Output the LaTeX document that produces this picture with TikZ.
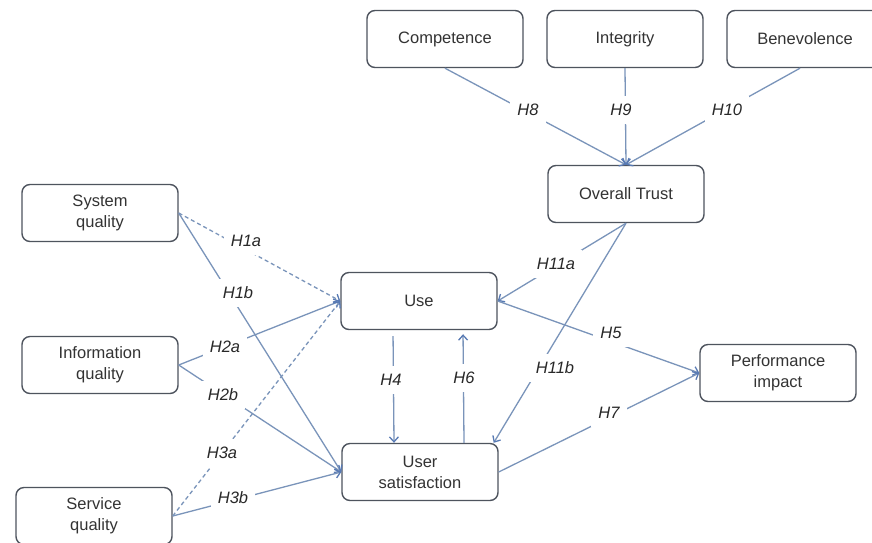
\documentclass[tikz,border=0pt]{standalone}
\usepackage{fontspec}
\setmainfont{Liberation Sans}
\usetikzlibrary{arrows.meta}
\definecolor{boxline}{RGB}{78,84,94}
\definecolor{linkline}{RGB}{122,148,186}
\definecolor{tipblue}{RGB}{88,122,180}
\definecolor{labtext}{RGB}{40,40,40}
\begin{document}
\begin{tikzpicture}[x=1pt,y=-1pt,
  construct/.style={draw=boxline, line width=1.4pt, rounded corners=8pt,
    minimum width=156pt, minimum height=57pt, align=center, fill=white,
    text=black!80, font=\fontsize{16.5}{21}\selectfont},
  link/.style={draw=linkline, line width=1.3pt,
    -{Straight Barb[length=5pt,width=9pt,line width=1.3pt,color=tipblue]}},
  dashedlink/.style={link, dash pattern=on 4pt off 3pt},
  hyp/.style={fill=white, inner xsep=7pt, inner ysep=8pt, text=labtext,
    font=\fontsize{16.5}{20}\selectfont\itshape}]
\useasboundingbox (0,0) rectangle (872,542);
\fill[white] (0,0) rectangle (872,542);
\clip (0,0) rectangle (872,542);

% constructs
\node[construct] (comp)  at (445,39)  {Competence};
\node[construct] (integ) at (625,39)  {Integrity};
\node[construct] (benev) at (805,39)  {Benevolence};
\node[construct] (trust) at (626,194) {Overall Trust};
\node[construct] (sysq)  at (100,213) {System\\quality};
\node[construct] (infq)  at (100,365) {Information\\quality};
\node[construct] (servq) at (94,516)  {Service\\quality};
\node[construct] (use)   at (419,301) {Use};
\node[construct] (usat)  at (420,472) {User\\satisfaction};
\node[construct] (perf)  at (778,373) {Performance\\impact};

% trust antecedents
\draw[link] (comp.south) -- (trust.north);
\draw[link] (integ.south) -- (trust.north);
\draw[link] ([xshift=-5pt]benev.south) -- (trust.north);

% trust consequences
\draw[link] (trust.south) -- (use.east);
\draw[link] (trust.south) -- ([xshift=-5pt]usat.north east);

% quality dimensions
\draw[dashedlink] (sysq.east) -- (use.west);
\draw[link] (sysq.east) -- (usat.west);
\draw[link] (infq.east) -- (use.west);
\draw[link] (infq.east) -- (usat.west);
\draw[dashedlink] (servq.east) -- (use.west);
\draw[link] (servq.east) -- (usat.west);

% use and satisfaction
\draw[link, shorten <=6pt] ([xshift=-26pt]use.south) -- ([xshift=-26pt]usat.north);
\draw[link, shorten >=4pt] ([xshift=44pt]usat.north) -- ([xshift=44pt]use.south);

% net benefits
\draw[link] (use.east) -- (perf.west);
\draw[link] (usat.east) -- (perf.west);

% hypothesis labels
\node[hyp] (lH8)   at (528,110) {H8};
\node[hyp] (lH9)   at (621,110) {H9};
\node[hyp] (lH10)  at (727,110) {H10};
\node[hyp] (lH11a) at (556,264) {H11a};
\node[hyp] (lH11b) at (555,368) {H11b};
\node[hyp] (lH5)   at (611,333) {H5};
\node[hyp] (lH7)   at (609,413) {H7};
\node[hyp] (lH4)   at (391,380) {H4};
\node[hyp] (lH6)   at (464,378) {H6};
\node[hyp] (lH1a)  at (246,241) {H1a};
\node[hyp] (lH1b)  at (238,293) {H1b};
\node[hyp] (lH2a)  at (225,347) {H2a};
\node[hyp] (lH2b)  at (223,395) {H2b};
\node[hyp] (lH3a)  at (222,453) {H3a};
\node[hyp] (lH3b)  at (233,498) {H3b};
\end{tikzpicture}
\end{document}
